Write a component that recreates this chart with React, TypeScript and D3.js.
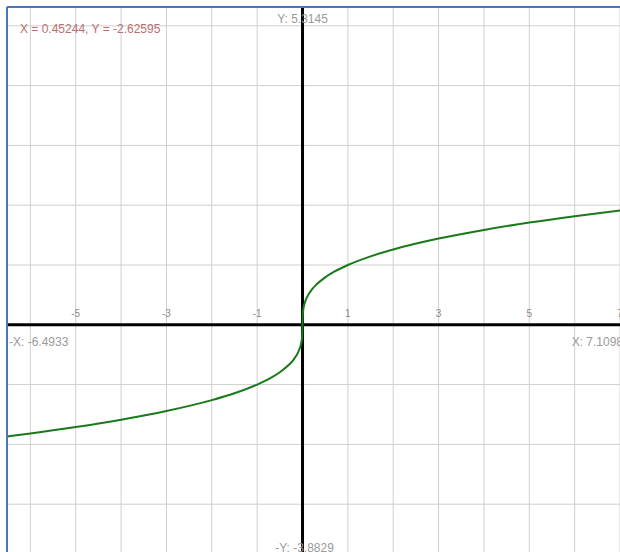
import React from 'react';
import * as d3 from 'd3';

// visible window of the plot
const xMin = -6.4933;
const xMax = 7.1098;
const yMin = -3.8829;
const yMax = 5.3145;

const gridX = [-6, -5, -4, -3, -2, -1, 1, 2, 3, 4, 5, 6, 7];
const gridY = [-3, -2, -1, 1, 2, 3, 4, 5];
const tickLabels = [-5, -3, -1, 1, 3, 5, 7];

// points
const curveX = [-6.5, -6, -5, -4, -3, -2, -1.5, -1, -0.7, -0.5, -0.3, -0.2, -0.1, -0.05, -0.02, -0.005, 0,
  0.005, 0.02, 0.05, 0.1, 0.2, 0.3, 0.5, 0.7, 1, 1.5, 2, 3, 4, 5, 6, 7.2];
const curveY = [-1.866, -1.817, -1.71, -1.587, -1.442, -1.26, -1.145, -1, -0.888, -0.794, -0.669, -0.585, -0.464, -0.368, -0.271, -0.171, 0,
  0.171, 0.271, 0.368, 0.464, 0.585, 0.669, 0.794, 0.888, 1, 1.145, 1.26, 1.442, 1.587, 1.71, 1.817, 1.931];

const cursorText = 'X = 0.45244, Y = -2.62595';

const App = () => {
    const left = 8, right = 625, top = 7, bottom = 557;
    const x = d3.scaleLinear().domain([xMin, xMax]).range([left, right]);
    const y = d3.scaleLinear().domain([yMin, yMax]).range([bottom, top]);

    const line = d3.line<number>()
        .x(i => x(curveX[i]))
        .y(i => y(curveY[i]))
        .curve(d3.curveMonotoneX);

    const font = 'Liberation Sans, Arial, sans-serif';

    return (
        <svg width={620} height={552} style={{ position: 'absolute', left: 0, top: 0, background: '#fff' }}>
            <rect x={0} y={0} width={620} height={552} fill="#fff" />
            {gridX.map(v => (
                <line key={'gx' + v} x1={x(v)} x2={x(v)} y1={top} y2={bottom} stroke="#cfcfcf" strokeWidth={1} />
            ))}
            {gridY.map(v => (
                <line key={'gy' + v} x1={left} x2={right} y1={y(v)} y2={y(v)} stroke="#cfcfcf" strokeWidth={1} />
            ))}
            <line x1={x(0)} x2={x(0)} y1={top} y2={bottom} stroke="#000" strokeWidth={3} />
            <line x1={left} x2={right} y1={y(0)} y2={y(0)} stroke="#000" strokeWidth={3} />
            {tickLabels.map(v => (
                <text key={'t' + v} x={x(v)} y={y(0) - 8} textAnchor="middle" fontSize={10} fill="#8a8a8a" fontFamily={font}>{v}</text>
            ))}
            <path d={line(d3.range(curveX.length)) || ''} fill="none" stroke="#1a7a1a" strokeWidth={2} />
            <text x={x(0)} y={23} textAnchor="middle" fontSize={12} fill="#9a9a9a" fontFamily={font}>{'Y: ' + yMax}</text>
            <text x={x(0) + 2} y={552} textAnchor="middle" fontSize={12} fill="#9a9a9a" fontFamily={font}>{'-Y: ' + yMin}</text>
            <text x={left + 1} y={y(0) + 21} fontSize={12} fill="#9a9a9a" fontFamily={font}>{'-X: ' + xMin}</text>
            <text x={right - 2} y={y(0) + 21} textAnchor="end" fontSize={12} fill="#9a9a9a" fontFamily={font}>{'X: ' + xMax}</text>
            <text x={20} y={33} fontSize={12} fill="#b87070" fontFamily={font}>{cursorText}</text>
            <line x1={left - 1} x2={620} y1={top} y2={top} stroke="#4a78b8" strokeWidth={2} />
            <line x1={left - 1} x2={left - 1} y1={top} y2={552} stroke="#4a78b8" strokeWidth={2} />
        </svg>
    );
};

export default App;
